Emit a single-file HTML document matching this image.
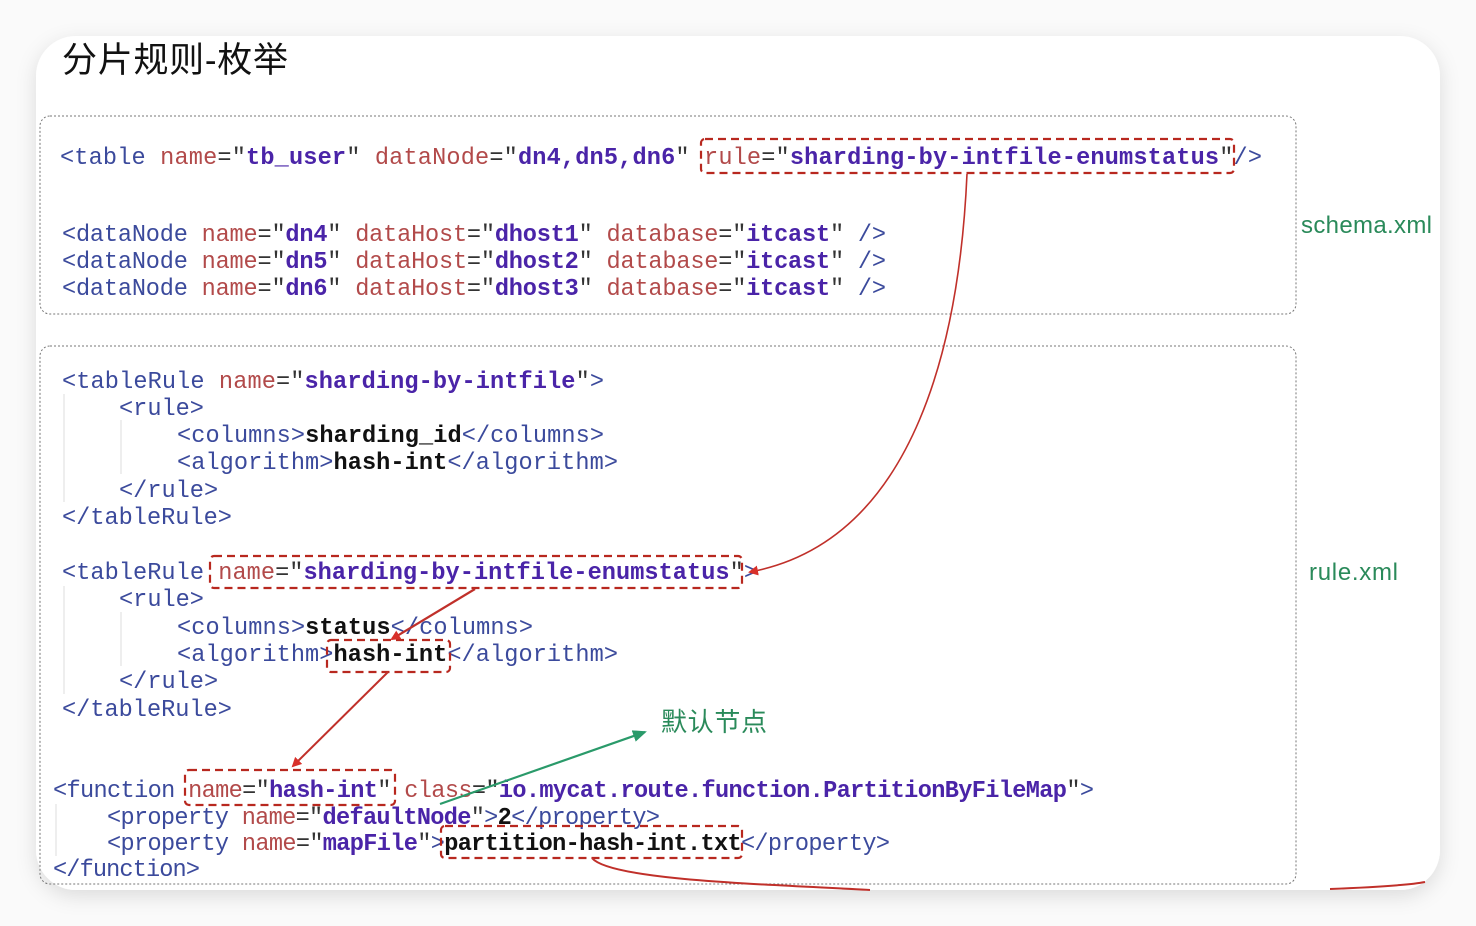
<!DOCTYPE html>
<html><head><meta charset="utf-8"><style>
html,body{margin:0;padding:0;background:#f4f4f4;}
svg{display:block}
.m{font-family:"Liberation Mono",monospace;font-size:23.6px;}
.t{fill:#3b4a9c}.a{fill:#b24a4a}.v{fill:#4a24a8;font-weight:bold}.b{fill:#111;font-weight:bold}.p{fill:#333}
</style></head><body>
<svg width="1476" height="926" viewBox="0 0 1476 926" xmlns="http://www.w3.org/2000/svg">
<defs>
<filter id="sh" x="-5%" y="-5%" width="110%" height="115%"><feDropShadow dx="0" dy="6" stdDeviation="10" flood-color="#000" flood-opacity="0.12"/></filter>
<marker id="ar" markerWidth="10" markerHeight="10" refX="8" refY="5" orient="auto" markerUnits="userSpaceOnUse"><path d="M0,0 L10,5 L0,10 z" fill="#d8302a"/></marker>
<marker id="ag" markerWidth="14" markerHeight="12" refX="12" refY="6" orient="auto" markerUnits="userSpaceOnUse"><path d="M0,0 L14,6 L0,12 z" fill="#2a9a6a"/></marker>
</defs>
<rect width="1476" height="926" fill="#fafafa"/>
<rect x="36" y="36" width="1404" height="854" rx="40" fill="#fff" filter="url(#sh)"/>
<text x="62" y="72" font-family="'Liberation Sans','Noto Sans CJK SC',sans-serif" font-size="35" textLength="226" fill="#111">分片规则-枚举</text>

<rect x="40" y="116" width="1256" height="198" rx="10" fill="none" stroke="#777" stroke-width="1" stroke-dasharray="2,2"/>
<rect x="40" y="346" width="1256" height="538" rx="10" fill="none" stroke="#777" stroke-width="1" stroke-dasharray="2,2"/>

<g stroke="#ddd" stroke-width="1">
<line x1="64" y1="394" x2="64" y2="502"/><line x1="121" y1="420" x2="121" y2="474"/>
<line x1="64" y1="586" x2="64" y2="694"/><line x1="121" y1="612" x2="121" y2="666"/>
<line x1="56" y1="804" x2="56" y2="856"/>
</g>

<g class="m">
<text x="60" y="164" textLength="1202"><tspan class="t">&lt;table </tspan><tspan class="a">name</tspan><tspan class="p">="</tspan><tspan class="v">tb_user</tspan><tspan class="p">" </tspan><tspan class="a">dataNode</tspan><tspan class="p">="</tspan><tspan class="v">dn4,dn5,dn6</tspan><tspan class="p">" </tspan><tspan class="a">rule</tspan><tspan class="p">="</tspan><tspan class="v">sharding-by-intfile-enumstatus</tspan><tspan class="p">"</tspan><tspan class="t">/&gt;</tspan></text>
<text x="62" y="241" textLength="824"><tspan class="t">&lt;dataNode </tspan><tspan class="a">name</tspan><tspan class="p">="</tspan><tspan class="v">dn4</tspan><tspan class="p">" </tspan><tspan class="a">dataHost</tspan><tspan class="p">="</tspan><tspan class="v">dhost1</tspan><tspan class="p">" </tspan><tspan class="a">database</tspan><tspan class="p">="</tspan><tspan class="v">itcast</tspan><tspan class="p">" </tspan><tspan class="t">/&gt;</tspan></text>
<text x="62" y="268" textLength="824"><tspan class="t">&lt;dataNode </tspan><tspan class="a">name</tspan><tspan class="p">="</tspan><tspan class="v">dn5</tspan><tspan class="p">" </tspan><tspan class="a">dataHost</tspan><tspan class="p">="</tspan><tspan class="v">dhost2</tspan><tspan class="p">" </tspan><tspan class="a">database</tspan><tspan class="p">="</tspan><tspan class="v">itcast</tspan><tspan class="p">" </tspan><tspan class="t">/&gt;</tspan></text>
<text x="62" y="295" textLength="824"><tspan class="t">&lt;dataNode </tspan><tspan class="a">name</tspan><tspan class="p">="</tspan><tspan class="v">dn6</tspan><tspan class="p">" </tspan><tspan class="a">dataHost</tspan><tspan class="p">="</tspan><tspan class="v">dhost3</tspan><tspan class="p">" </tspan><tspan class="a">database</tspan><tspan class="p">="</tspan><tspan class="v">itcast</tspan><tspan class="p">" </tspan><tspan class="t">/&gt;</tspan></text>

<text x="62" y="388" textLength="542"><tspan class="t">&lt;tableRule </tspan><tspan class="a">name</tspan><tspan class="p">="</tspan><tspan class="v">sharding-by-intfile</tspan><tspan class="p">"</tspan><tspan class="t">&gt;</tspan></text>
<text x="119" y="415" class="t">&lt;rule&gt;</text>
<text x="177" y="442" textLength="427"><tspan class="t">&lt;columns&gt;</tspan><tspan class="b">sharding_id</tspan><tspan class="t">&lt;/columns&gt;</tspan></text>
<text x="177" y="469" textLength="441"><tspan class="t">&lt;algorithm&gt;</tspan><tspan class="b">hash-int</tspan><tspan class="t">&lt;/algorithm&gt;</tspan></text>
<text x="119" y="497" class="t">&lt;/rule&gt;</text>
<text x="62" y="524" class="t">&lt;/tableRule&gt;</text>

<text x="62" y="579" textLength="696"><tspan class="t">&lt;tableRule </tspan><tspan class="a">name</tspan><tspan class="p">="</tspan><tspan class="v">sharding-by-intfile-enumstatus</tspan><tspan class="p">"</tspan><tspan class="t">&gt;</tspan></text>
<text x="119" y="606" class="t">&lt;rule&gt;</text>
<text x="177" y="634" textLength="356"><tspan class="t">&lt;columns&gt;</tspan><tspan class="b">status</tspan><tspan class="t">&lt;/columns&gt;</tspan></text>
<text x="177" y="661" textLength="441"><tspan class="t">&lt;algorithm&gt;</tspan><tspan class="b">hash-int</tspan><tspan class="t">&lt;/algorithm&gt;</tspan></text>
<text x="119" y="688" class="t">&lt;/rule&gt;</text>
<text x="62" y="716" class="t">&lt;/tableRule&gt;</text>

<text x="53" y="797" textLength="1041"><tspan class="t">&lt;function </tspan><tspan class="a">name</tspan><tspan class="p">="</tspan><tspan class="v">hash-int</tspan><tspan class="p">" </tspan><tspan class="a">class</tspan><tspan class="p">="</tspan><tspan class="v">io.mycat.route.function.PartitionByFileMap</tspan><tspan class="p">"</tspan><tspan class="t">&gt;</tspan></text>
<text x="107" y="824" textLength="553"><tspan class="t">&lt;property </tspan><tspan class="a">name</tspan><tspan class="p">="</tspan><tspan class="v">defaultNode</tspan><tspan class="p">"</tspan><tspan class="t">&gt;</tspan><tspan class="b">2</tspan><tspan class="t">&lt;/property&gt;</tspan></text>
<text x="107" y="850" textLength="783"><tspan class="t">&lt;property </tspan><tspan class="a">name</tspan><tspan class="p">="</tspan><tspan class="v">mapFile</tspan><tspan class="p">"</tspan><tspan class="t">&gt;</tspan><tspan class="b">partition-hash-int.txt</tspan><tspan class="t">&lt;/property&gt;</tspan></text>
<text x="53" y="876" class="t" textLength="147">&lt;/function&gt;</text>
</g>

<g fill="none" stroke="#b8281f" stroke-width="2.2" stroke-dasharray="8,5">
<rect x="701" y="139" width="533" height="34" rx="4"/>
<rect x="210" y="556" width="532" height="32" rx="4"/>
<rect x="327" y="640" width="123" height="32" rx="4"/>
<rect x="185" y="770" width="210" height="35" rx="4"/>
<rect x="441" y="826" width="301" height="32" rx="4"/>
</g>

<g fill="none" stroke="#c0302a" stroke-width="1.6">
<path d="M967,174 C960,330 920,540 750,572" marker-end="url(#ar)"/>
<line x1="475" y1="589" x2="392" y2="639" stroke-width="2.2" marker-end="url(#ar)"/>
<line x1="388" y1="672" x2="293" y2="766" stroke-width="2" marker-end="url(#ar)"/>
<path d="M592,858 C610,880 760,884 870,890" stroke-width="2"/>
<path d="M1330,889 C1380,887 1410,885 1425,882" stroke-width="2"/>
</g>
<line x1="440" y1="804" x2="645" y2="732" stroke="#2a9a6a" stroke-width="2.2" marker-end="url(#ag)"/>

<g font-family="'Liberation Sans','Noto Sans CJK SC',sans-serif" fill="#2a8a5a">
<text x="1301" y="233" font-size="24" textLength="131">schema.xml</text>
<text x="1309" y="580" font-size="24" textLength="89">rule.xml</text>
<text x="661" y="731" font-size="26" textLength="106">默认节点</text>
</g>
</svg>
</body></html>
